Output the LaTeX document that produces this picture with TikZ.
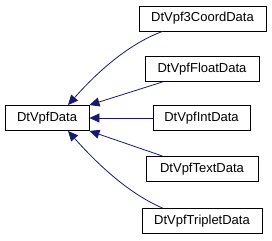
\documentclass[tikz,border=0pt]{standalone}
\usepackage{fontspec}
\setmainfont{Liberation Sans}
\usetikzlibrary{positioning, arrows.meta}
\definecolor{edgeblue}{RGB}{25,25,112}

\begin{document}
\begin{tikzpicture}[x=1pt, y=-1pt,
  every node/.style={inner sep=0pt},
  cls/.style={draw=black, fill=white, line width=0.9pt, font=\fontsize{13}{15}\selectfont,
              minimum height=25pt, anchor=center},
  inherit/.style={{Triangle[length=10pt, width=9pt]}-, edgeblue, line width=0.8pt}]
\useasboundingbox (0,0) rectangle (272,240);
\node[cls, minimum width=84pt] (data) at (47,118) {DtVpfData};
\node[cls, minimum width=127pt] (coord) at (202.5,18.5) {DtVpf3CoordData};
\node[cls, minimum width=114pt] (float) at (202,69) {DtVpfFloatData};
\node[cls, minimum width=97pt] (int) at (201.5,118) {DtVpfIntData};
\node[cls, minimum width=112pt] (text) at (202,169) {DtVpfTextData};
\node[cls, minimum width=120pt] (triplet) at (202,221) {DtVpfTripletData};
% edges point from derived class to base
\draw[inherit] ([xshift=21pt]data.north) .. controls (92,78) and (125,45) .. ([xshift=24pt]coord.south west);
\draw[inherit] (data.north east) -- ([xshift=18pt]float.south west);
\draw[inherit] (data.east) -- (int.west);
\draw[inherit] (data.south east) -- ([xshift=17pt]text.north west);
\draw[inherit] ([xshift=21pt]data.south) .. controls (92,158) and (125,192) .. ([xshift=21pt]triplet.north west);
\end{tikzpicture}
\end{document}
